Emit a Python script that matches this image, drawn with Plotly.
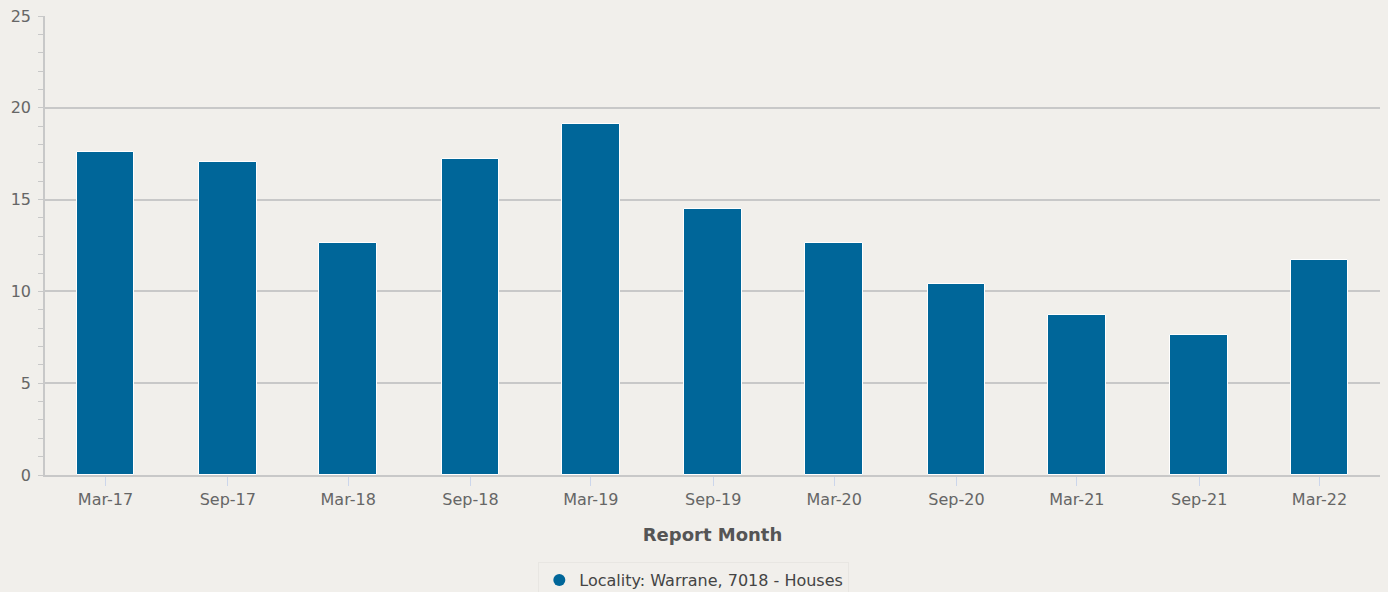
import plotly.graph_objects as go

months = ["2017-03-01", "2017-09-01", "2018-03-01", "2018-09-01", "2019-03-01",
          "2019-09-01", "2020-03-01", "2020-09-01", "2021-03-01", "2021-09-01", "2022-03-01"]
tick_labels = ["Mar-17", "Sep-17", "Mar-18", "Sep-18", "Mar-19", "Sep-19",
               "Mar-20", "Sep-20", "Mar-21", "Sep-21", "Mar-22"]
values = [17.6, 17.05, 12.65, 17.2, 19.1, 14.5, 12.65, 10.4, 8.7, 7.65, 11.7]
series_name = "Locality: Warrane, 7018 - Houses"

BAR = "#006699"
BG = "#f1efeb"
GRID = "#c8c8c8"

fig = go.Figure()
fig.add_trace(go.Bar(
    x=months, y=values, name=series_name, showlegend=False,
    marker=dict(color=BAR, line=dict(color="white", width=1)),
    width=[87 * 86400000] * len(months),
))
fig.add_trace(go.Scatter(
    x=[None], y=[None], mode="markers", name=series_name,
    marker=dict(color=BAR, size=15, symbol="circle"),
))

fig.update_layout(
    width=1388, height=592,
    paper_bgcolor=BG, plot_bgcolor=BG,
    margin=dict(l=45, r=8, t=16, b=117, autoexpand=False),
    font=dict(family="DejaVu Sans", size=16, color="#666666"),
    showlegend=True,
    legend=dict(orientation="h", x=0.486, xanchor="center", y=-0.19, yanchor="top",
                font=dict(size=16, color="#444444"), bgcolor=BG,
                bordercolor="#e8e6e2", borderwidth=1, itemsizing="constant"),
    xaxis=dict(
        type="date", range=["2016-11-30", "2022-05-31"],
        tickvals=months, ticktext=tick_labels,
        ticks="outside", ticklen=9, tickcolor="#ccd6eb", tickwidth=1,
        showgrid=False, showline=True, linecolor=GRID, linewidth=1.5,
        tickfont=dict(size=16, color="#666666"),
        title=dict(text="<b>Report Month</b>", font=dict(size=18, color="#555555"), standoff=20),
    ),
    yaxis=dict(
        range=[0, 25], dtick=5, tick0=0,
        showgrid=True, gridcolor=GRID, gridwidth=1.5,
        showline=True, linecolor=GRID, linewidth=1.5,
        ticks="outside", ticklen=5, tickcolor=GRID,
        minor=dict(dtick=1, ticks="outside", ticklen=5, tickcolor=GRID, showgrid=False),
        zeroline=False, ticklabelstandoff=4,
        tickfont=dict(size=16, color="#666666"),
    ),
    bargap=0,
)

fig.write_html("out.html")
